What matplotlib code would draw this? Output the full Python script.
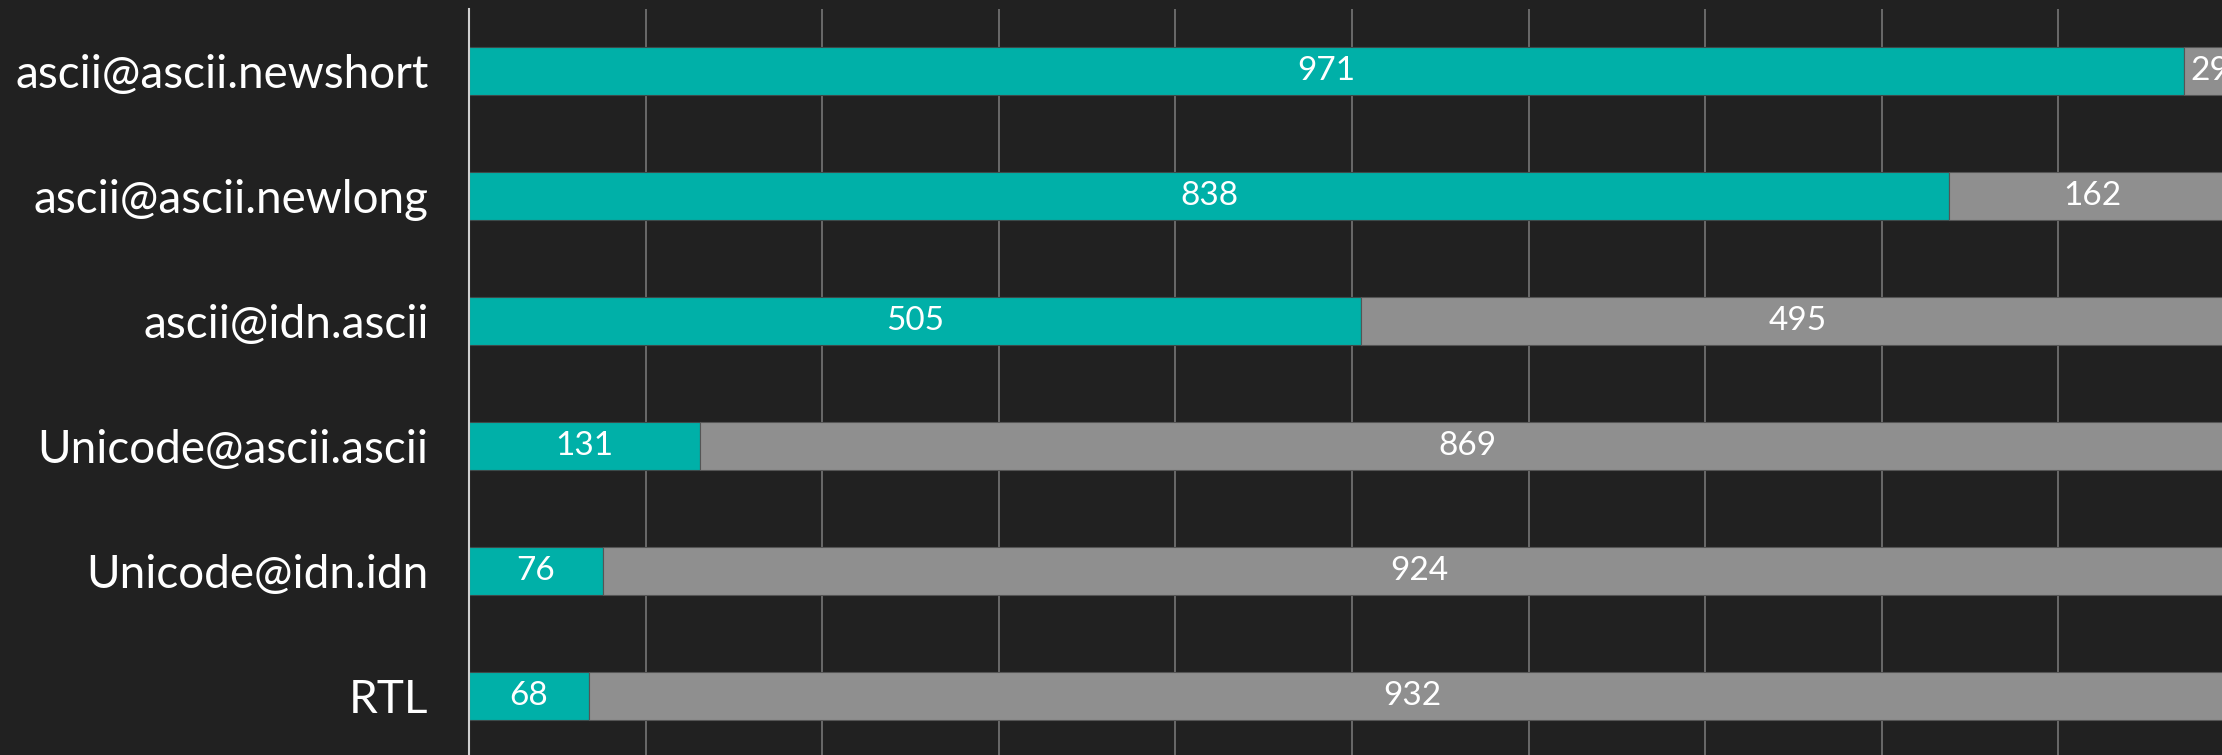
import matplotlib.pyplot as plt

# Data
categories = ["ascii@ascii.newshort", "ascii@ascii.newlong", "ascii@idn.ascii",
              "Unicode@ascii.ascii", "Unicode@idn.idn", "RTL"]
passed = [971, 838, 505, 131, 76, 68]
failed = [29, 162, 495, 869, 924, 932]

bg = "#212121"
teal = "#00b0a8"
grey = "#8f8f8f"

plt.rcParams["font.family"] = ["Lato", "DejaVu Sans"]

fig = plt.figure(figsize=(22.22, 7.55), dpi=100, facecolor=bg)
ax = fig.add_axes([469 / 2222, -3.5 / 755, 1 - 469 / 2222, 750 / 755])
ax.set_facecolor(bg)

y = list(range(len(categories)))
h = 0.39
ax.barh(y, passed, height=h, color=teal, edgecolor="#3c4a4a", linewidth=0.8, zorder=2)
ax.barh(y, failed, left=passed, height=h, color=grey, edgecolor="#555555", linewidth=0.8, zorder=2)

for i in y:
    ax.text(passed[i] / 2, i, str(passed[i]), ha="center", va="center",
            color="white", fontsize=24, zorder=3)
    ax.text(passed[i] + failed[i] / 2, i, str(failed[i]), ha="center", va="center",
            color="white", fontsize=24, zorder=3)

ax.set_yticks(y)
ax.set_yticklabels(categories, color="white", fontsize=33)
ax.tick_params(axis="y", length=0, pad=29)
ax.set_xticks(range(0, 1001, 100))
ax.tick_params(axis="x", length=0, labelbottom=False)
ax.set_ylim(len(categories) - 0.5, -0.5)
ax.set_xlim(0, 992.6)
ax.xaxis.grid(True, color="#6f6f6f", linewidth=1.3, zorder=0)
ax.set_axisbelow(True)

for s in ["top", "right", "bottom"]:
    ax.spines[s].set_visible(False)
ax.spines["left"].set_color("#d0d0d0")
ax.spines["left"].set_linewidth(1.5)
ax.spines["left"].set_zorder(4)

fig.savefig("out.png", dpi=100, facecolor=bg)
